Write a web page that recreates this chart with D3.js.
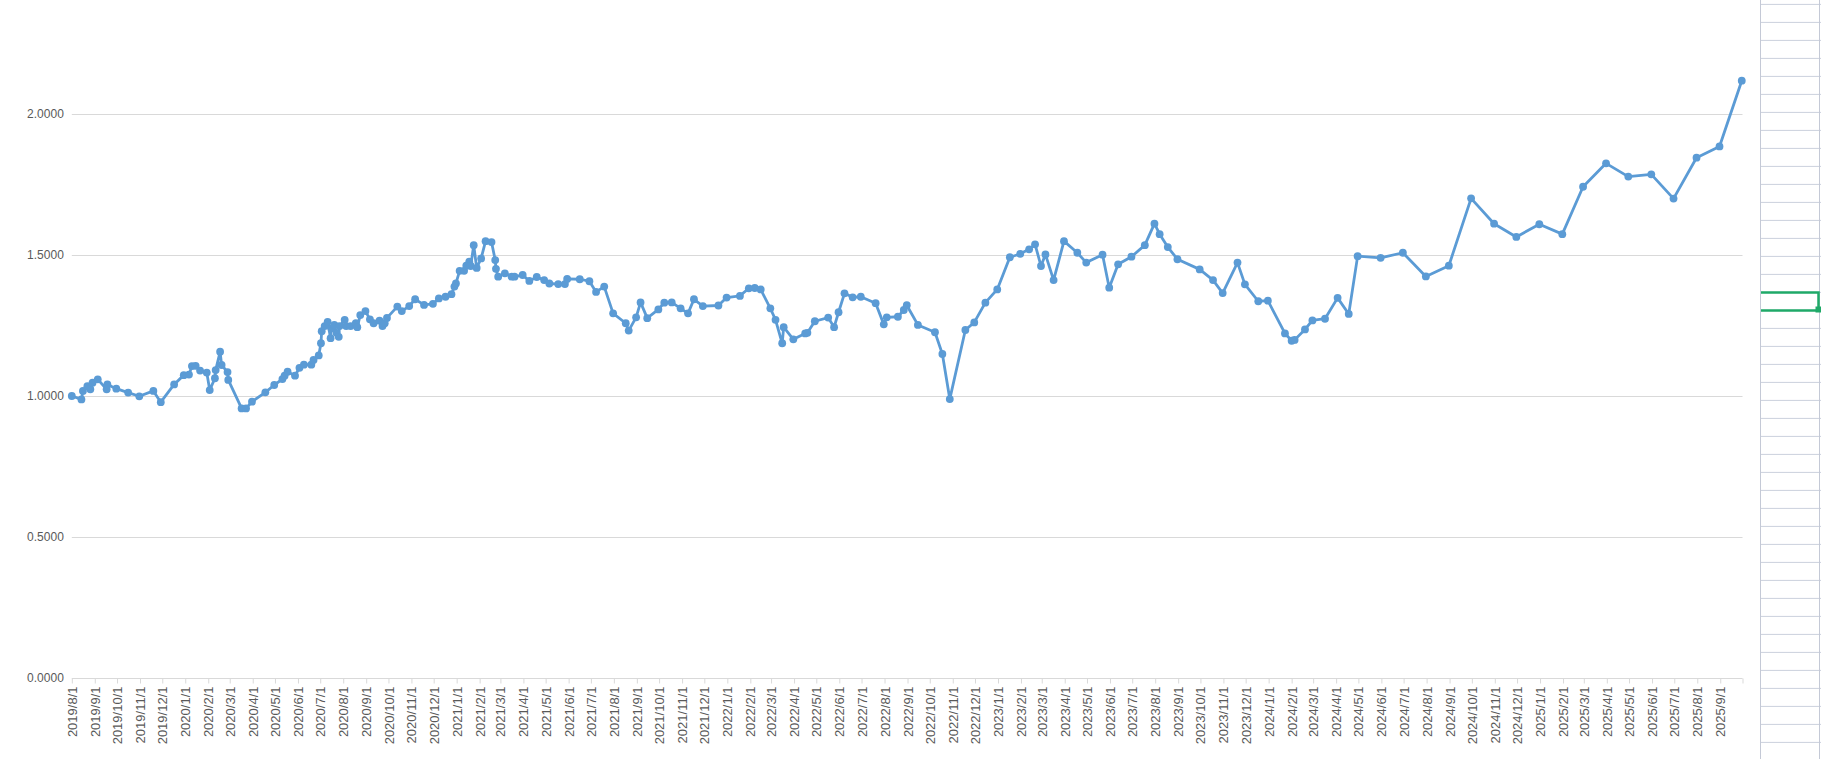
<!DOCTYPE html>
<html><head><meta charset="utf-8">
<script src="https://cdn.jsdelivr.net/npm/d3@7"></script>
<style>body{margin:0;background:#fff;overflow:hidden} svg{display:block}</style>
</head><body><svg id="c" width="1821" height="759"></svg>
<script>
const dates = [
"2019-08-01","2019-08-14","2019-08-16","2019-08-22","2019-08-26","2019-08-29","2019-09-05","2019-09-17","2019-09-18","2019-09-30",
"2019-10-16","2019-10-31","2019-11-19","2019-11-29","2019-12-17","2019-12-30","2020-01-06","2020-01-10","2020-01-15","2020-01-21",
"2020-01-30","2020-02-03","2020-02-10","2020-02-11","2020-02-17","2020-02-19","2020-02-27","2020-02-28","2020-03-17","2020-03-23",
"2020-03-31","2020-04-18","2020-04-30","2020-05-11","2020-05-14","2020-05-18","2020-05-28","2020-06-03","2020-06-09","2020-06-19",
"2020-06-22","2020-06-29","2020-07-02","2020-07-03","2020-07-07","2020-07-11","2020-07-15","2020-07-16","2020-07-20","2020-07-23",
"2020-07-26","2020-07-27","2020-08-03","2020-08-05","2020-08-11","2020-08-18","2020-08-20","2020-08-24","2020-08-31","2020-09-06",
"2020-09-11","2020-09-19","2020-09-23","2020-09-26","2020-09-29","2020-10-13","2020-10-19","2020-10-29","2020-11-06","2020-11-18",
"2020-11-30","2020-12-08","2020-12-17","2020-12-25","2020-12-29","2020-12-31","2021-01-05","2021-01-11","2021-01-14","2021-01-18",
"2021-01-20","2021-01-24","2021-01-28","2021-02-03","2021-02-09","2021-02-17","2021-02-22","2021-02-23","2021-02-26","2021-03-07",
"2021-03-16","2021-03-20","2021-03-31","2021-04-09","2021-04-19","2021-04-29","2021-05-06","2021-05-18","2021-05-27","2021-05-30",
"2021-06-16","2021-06-29","2021-07-08","2021-07-19","2021-07-31","2021-08-17","2021-08-21","2021-08-31","2021-09-06","2021-09-15",
"2021-09-30","2021-10-08","2021-10-18","2021-10-30","2021-11-09","2021-11-17","2021-11-29","2021-12-20","2021-12-31","2022-01-18",
"2022-01-30","2022-02-07","2022-02-15","2022-02-28","2022-03-07","2022-03-16","2022-03-18","2022-03-31","2022-04-16","2022-04-19",
"2022-04-29","2022-05-17","2022-05-25","2022-05-31","2022-06-08","2022-06-19","2022-06-30","2022-07-20","2022-07-31","2022-08-04",
"2022-08-19","2022-08-27","2022-08-31","2022-09-15","2022-10-08","2022-10-18","2022-10-28","2022-11-18","2022-11-30","2022-12-15",
"2022-12-31","2023-01-17","2023-01-31","2023-02-12","2023-02-20","2023-02-28","2023-03-06","2023-03-17","2023-03-31","2023-04-18",
"2023-04-30","2023-05-22","2023-05-31","2023-06-12","2023-06-30","2023-07-18","2023-07-31","2023-08-07","2023-08-18","2023-08-31",
"2023-09-30","2023-10-18","2023-10-31","2023-11-20","2023-11-30","2023-12-18","2023-12-31","2024-01-23","2024-02-01","2024-02-05",
"2024-02-19","2024-02-29","2024-03-17","2024-04-03","2024-04-18","2024-04-30","2024-05-31","2024-06-30","2024-07-31","2024-08-31",
"2024-09-30","2024-10-31","2024-11-30","2024-12-31","2025-01-31","2025-02-28","2025-03-31","2025-04-30","2025-05-31","2025-06-30",
"2025-07-31","2025-08-31","2025-09-30"
];
const values = [
1.000,0.988,1.018,1.035,1.024,1.047,1.059,1.024,1.041,1.026,
1.012,0.999,1.018,0.978,1.041,1.074,1.076,1.106,1.107,1.090,
1.083,1.021,1.063,1.092,1.157,1.110,1.085,1.057,0.956,0.956,
0.980,1.013,1.039,1.060,1.072,1.086,1.072,1.100,1.111,1.111,
1.128,1.144,1.187,1.230,1.248,1.263,1.205,1.240,1.252,1.224,
1.210,1.248,1.270,1.248,1.248,1.258,1.244,1.287,1.301,1.272,
1.258,1.267,1.248,1.258,1.277,1.317,1.301,1.319,1.343,1.323,
1.327,1.346,1.352,1.361,1.388,1.399,1.444,1.444,1.462,1.476,
1.461,1.535,1.454,1.488,1.549,1.546,1.482,1.451,1.423,1.435,
1.423,1.423,1.429,1.408,1.422,1.411,1.399,1.397,1.397,1.415,
1.414,1.407,1.369,1.388,1.293,1.258,1.232,1.279,1.332,1.276,
1.307,1.331,1.332,1.311,1.293,1.343,1.319,1.321,1.349,1.355,
1.382,1.383,1.378,1.311,1.270,1.187,1.244,1.201,1.222,1.224,
1.265,1.278,1.244,1.297,1.364,1.350,1.352,1.329,1.254,1.279,
1.281,1.305,1.322,1.252,1.226,1.149,0.989,1.234,1.261,1.331,
1.378,1.492,1.504,1.520,1.538,1.461,1.502,1.411,1.549,1.508,
1.473,1.501,1.384,1.467,1.494,1.535,1.611,1.574,1.528,1.485,
1.449,1.411,1.365,1.473,1.396,1.336,1.338,1.222,1.196,1.199,
1.236,1.268,1.274,1.348,1.291,1.496,1.490,1.508,1.424,1.462,
1.701,1.611,1.564,1.609,1.574,1.742,1.825,1.778,1.786,1.700,
1.845,1.885,2.118
];
const yTicks = [0, 0.5, 1.0, 1.5, 2.0];
const xStart = "2019-08-01", xEnd = "2025-10-01";

const parse = d3.utcParse("%Y-%m-%d");
const data = dates.map((d, i) => ({ date: parse(d), value: values[i] }));

const svg = d3.select("#c");
const x = d3.scaleUtc().domain([parse(xStart), parse(xEnd)]).range([71.8, 1742.5]);
const y = d3.scaleLinear().domain([0, 2]).range([678, 114]);

// spreadsheet area on the right
const sheet = svg.append("g");
const rows = d3.range(0, 43).map(i => 3.9 + 18 * i);
sheet.selectAll("line.row").data(rows).join("line")
  .attr("x1", 1760).attr("x2", 1821).attr("y1", d => d + 0.5).attr("y2", d => d + 0.5)
  .attr("stroke", "#CBD0DD").attr("stroke-width", 1);
sheet.append("line").attr("x1", 1760.5).attr("x2", 1760.5).attr("y1", 0).attr("y2", 759)
  .attr("stroke", "#C4C9D6").attr("stroke-width", 1);
sheet.append("line").attr("x1", 1819.5).attr("x2", 1819.5).attr("y1", 0).attr("y2", 759)
  .attr("stroke", "#C4C9D6").attr("stroke-width", 1);
const sel = sheet.append("g");
sel.append("path").attr("d", "M1761,292.5H1818.5V310.5H1761")
  .attr("fill", "none").attr("stroke", "#1FA968").attr("stroke-width", 2.5);
sel.append("rect").attr("x", 1815.5).attr("y", 306.5).attr("width", 5.5).attr("height", 6).attr("fill", "#1FA968");

// gridlines
const g = svg.append("g");
g.selectAll("line.grid").data(yTicks.slice(1)).join("line")
  .attr("x1", 71.8).attr("x2", 1742.5)
  .attr("y1", d => Math.round(y(d)) + 0.5).attr("y2", d => Math.round(y(d)) + 0.5)
  .attr("stroke", "#D9D9D9").attr("stroke-width", 1);

// y labels
const yAxis = d3.axisLeft(y).tickValues(yTicks).tickFormat(d3.format(".4f")).tickSize(0).tickPadding(8);
const ya = svg.append("g").attr("transform", "translate(71.8,0)").call(yAxis);
ya.select(".domain").remove();
ya.selectAll("text").attr("fill", "#595959").style("font-family", "Liberation Sans, Arial, sans-serif").style("font-size", "12px");

// x axis
const months = d3.utcMonth.range(parse(xStart), d3.utcDay.offset(parse(xEnd), 1));
const fmt = d => `${d.getUTCFullYear()}/${d.getUTCMonth() + 1}/${d.getUTCDate()}`;
const xAxis = d3.axisBottom(x).tickValues(months).tickSize(5).tickPadding(4)
  .tickFormat((d, i) => i === months.length - 1 ? "" : fmt(d));
const xa = svg.append("g").attr("transform", "translate(0,678.5)").call(xAxis);
xa.select(".domain").attr("stroke", "#D9D9D9").attr("d", "M71.8,0H1742.5");
xa.selectAll(".tick line").attr("stroke", "#D9D9D9");
xa.selectAll(".tick text")
  .attr("fill", "#595959")
  .style("font-family", "Liberation Sans, Arial, sans-serif").style("font-size", "13px")
  .attr("transform", "rotate(-90)")
  .attr("text-anchor", "end")
  .attr("x", -8).attr("y", 0).attr("dy", "0.35em");

// series
const line = d3.line().x(d => x(d.date)).y(d => y(d.value));
svg.append("path").datum(data).attr("d", line)
  .attr("fill", "none").attr("stroke", "#5B9BD5").attr("stroke-width", 2.8)
  .attr("stroke-linejoin", "round").attr("stroke-linecap", "round");
svg.append("g").selectAll("circle").data(data).join("circle")
  .attr("cx", d => x(d.date)).attr("cy", d => y(d.value)).attr("r", 3.9)
  .attr("fill", "#5B9BD5");
</script>
</body></html>
